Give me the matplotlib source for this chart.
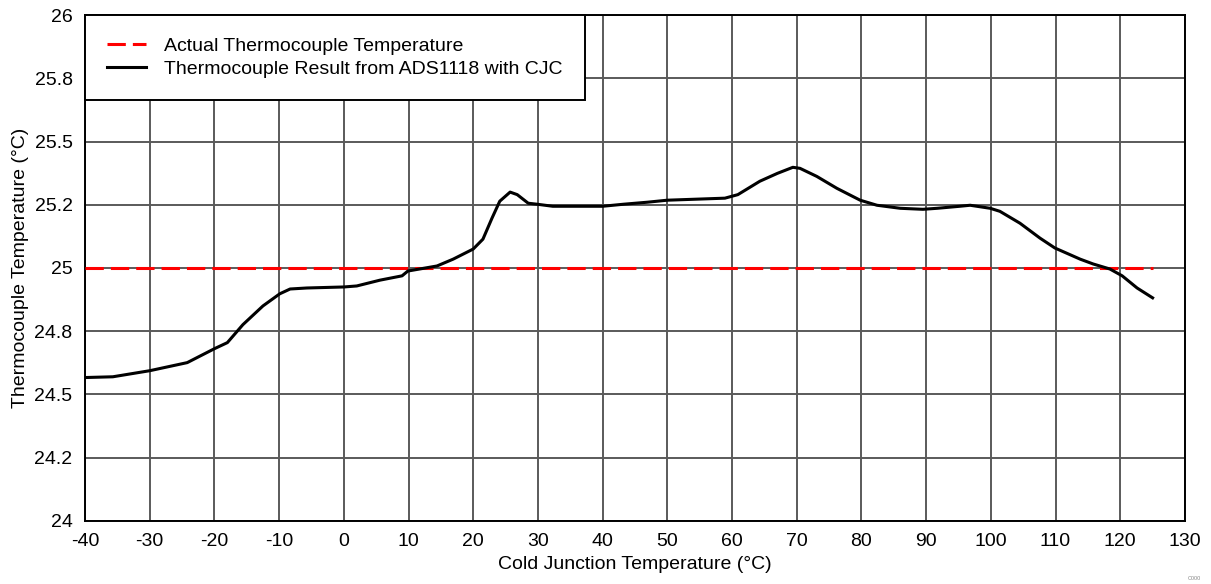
import numpy as np
import matplotlib.pyplot as plt
from matplotlib.ticker import FixedLocator, FixedFormatter

plt.rcParams['font.family'] = ['Liberation Sans', 'DejaVu Sans']
plt.rcParams['axes.unicode_minus'] = False

# cold junction temperature (degC) and measured thermocouple result (degC)
cj_temp = [-40, -35.7, -30, -24.2, -20, -18, -15.6, -12.5, -9.9, -8.3, -5.7, 0,
           2, 5.6, 9, 9.9, 14.4, 16.9, 20, 21.5, 22.9, 24.1, 25.7, 26.8, 28.5,
           29.9, 32.3, 40, 43.2, 46.9, 50, 58.9, 60.9, 64.3, 67, 69.4, 70.5,
           73.1, 76.2, 79.8, 82.4, 86, 89.5, 91.7, 95.2, 96.8, 99.9, 101.4,
           104.5, 107.6, 109.9, 113.8, 115.8, 118.4, 120.3, 122.6, 125]
tc_result = [24.567, 24.57, 24.594, 24.626, 24.681, 24.705, 24.776, 24.85, 24.898,
             24.917, 24.921, 24.925, 24.929, 24.952, 24.969, 24.988, 25.008,
             25.035, 25.075, 25.114, 25.197, 25.264, 25.30, 25.29, 25.256,
             25.252, 25.244, 25.244, 25.252, 25.26, 25.268, 25.276, 25.29,
             25.343, 25.374, 25.398, 25.394, 25.362, 25.315, 25.268, 25.248,
             25.236, 25.232, 25.236, 25.244, 25.248, 25.236, 25.224, 25.177,
             25.118, 25.079, 25.035, 25.016, 24.996, 24.969, 24.921, 24.882]
actual_x = [-40, 125]
actual_y = [25, 25]

x_ticks = list(range(-40, 131, 10))
y_ticks = [24, 24.25, 24.5, 24.75, 25, 25.25, 25.5, 25.75, 26]
y_tick_labels = ["24", "24.2", "24.5", "24.8", "25", "25.2", "25.5", "25.8", "26"]

fig = plt.figure(figsize=(12.11, 5.84), dpi=100)
ax = fig.add_axes([0.0702, 0.1079, 0.9083, 0.8664])

ax.plot(actual_x, actual_y, color="#ff0000", lw=2.2, ls=(0, (6, 2.3)),
        label="Actual Thermocouple Temperature", zorder=3)
ax.plot(cj_temp, tc_result, color="black", lw=2.2,
        label="Thermocouple Result from ADS1118 with CJC", zorder=4)

ax.set_xlim(-40, 130)
ax.set_ylim(24, 26)
ax.xaxis.set_major_locator(FixedLocator(x_ticks))
ax.yaxis.set_major_locator(FixedLocator(y_ticks))
ax.yaxis.set_major_formatter(FixedFormatter(y_tick_labels))
ax.tick_params(length=0, labelsize=14)
ax.tick_params(axis="x", pad=9)
ax.tick_params(axis="y", pad=9)
ax.grid(True, color="#5a5a5a", lw=1.4)
for s in ax.spines.values():
    s.set_color("black")
    s.set_linewidth(1.4)

ax.set_xlabel("Cold Junction Temperature (°C)", fontsize=14, labelpad=4)
ax.set_ylabel("Thermocouple Temperature (°C)", fontsize=14)
ax.yaxis.set_label_coords(-0.051, 0.5)

leg = ax.legend(loc="upper left", fontsize=14, fancybox=False, framealpha=1,
                edgecolor="black", borderaxespad=0, handlelength=2.0,
                handletextpad=0.9, borderpad=1.15, labelspacing=0.28)
leg.get_frame().set_linewidth(1.4)

fig.text(0.992, 0.005, "C000", fontsize=4, color="#888888", ha="right", va="bottom")

fig.savefig("out.png", dpi=100)
